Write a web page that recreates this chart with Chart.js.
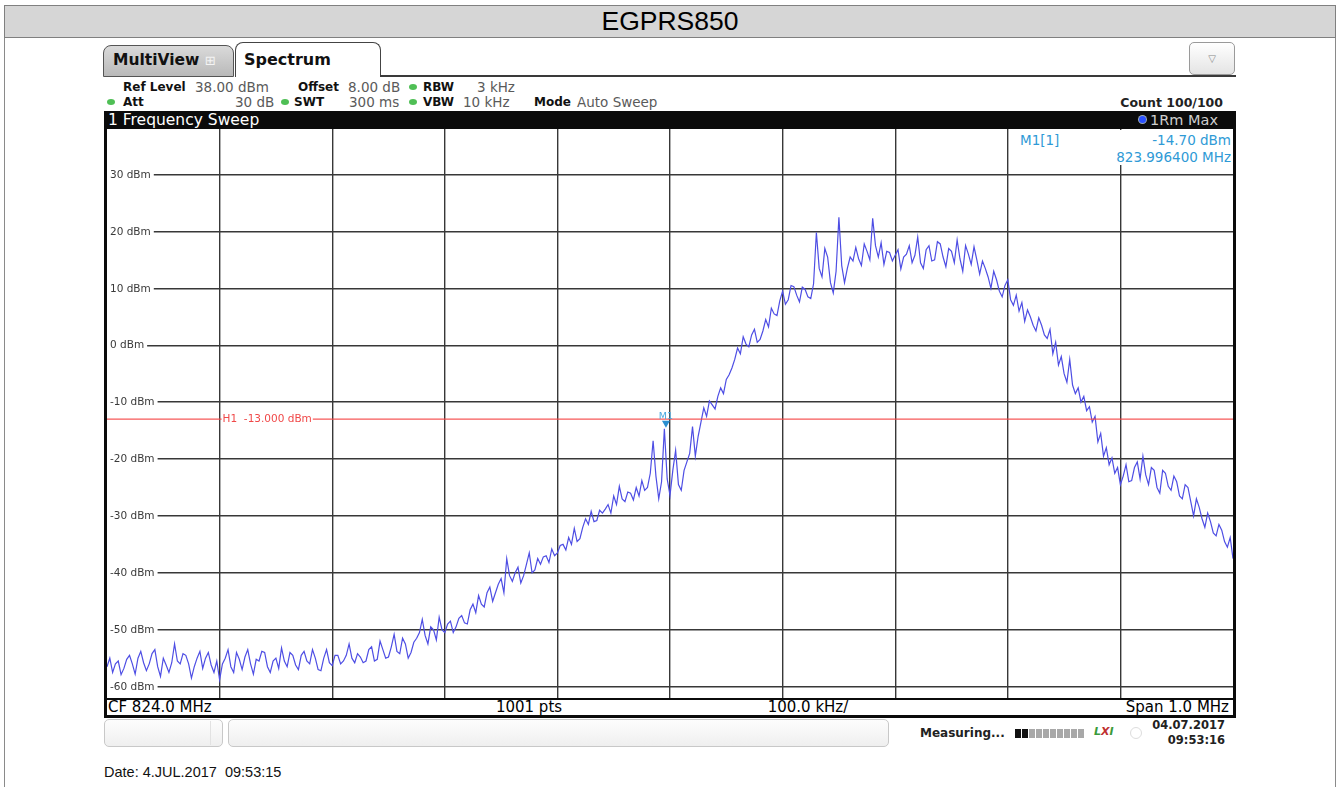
<!DOCTYPE html>
<html>
<head>
<meta charset="utf-8">
<title>EGPRS850</title>
<script src="https://cdn.jsdelivr.net/npm/chart.js@4.4.0/dist/chart.umd.min.js"></script>
<style>
  html, body { margin: 0; padding: 0; background: #fff; }
  body { width: 1341px; height: 787px; position: relative; overflow: hidden; font-family: "DejaVu Sans", sans-serif; }
  .a { position: absolute; white-space: pre; }
  #header { left: 4px; top: 5px; width: 1332px; height: 33px; box-sizing: border-box; background: #d6d6d6;
            border: 1px solid #808080; text-align: center; font: 26.5px "Liberation Sans", Arial, sans-serif; line-height: 31px; color: #000; }
  .side { top: 38px; width: 1px; height: 749px; background: #8a8a8a; }
  .tab { box-sizing: border-box; border-radius: 8px 8px 0 0; font-weight: bold; color: #111; }
  #tabMulti { left: 103px; top: 45px; width: 131px; height: 32px; background: linear-gradient(#dadada, #b9b9b9);
              border: 1.5px solid #555; font-size: 15.5px; line-height: 28px; padding-left: 9px; }
  #tabSpec { left: 235px; top: 42px; width: 146px; height: 35px; background: #fff; border: 1.5px solid #444;
             border-bottom: none; font-size: 16px; line-height: 33px; padding-left: 8px; }
  #tabLine { left: 380px; top: 75px; width: 856px; height: 2px; background: #3a3a3a; }
  #drop { left: 1189px; top: 42px; width: 46px; height: 33px; box-sizing: border-box; border: 1px solid #9a9a9a; border-radius: 5px;
          background: linear-gradient(#ffffff, #e4e4e4); text-align: center; line-height: 31px; font-size: 10px; color: #888; }
  .info { font-size: 13.5px; line-height: 15px; color: #5a5a5a; }
  .lbl { font-size: 12px; line-height: 15px; font-weight: bold; color: #111; }
  .dot { width: 8px; height: 6px; border-radius: 50%; background: #4fbf55; }
  #frame { left: 104px; top: 111px; width: 1132px; height: 607px; background: #0b0b0b; }
  #barTitle { left: 108px; top: 111px; font-size: 15.5px; line-height: 18px; color: #fff; }
  #traceDot { left: 1139px; top: 116px; width: 7px; height: 7px; border-radius: 50%; background: #2a50ff; box-shadow: 0 0 0 1px #9ab; }
  #traceTag { left: 1150px; top: 111px; font-size: 14.5px; line-height: 18px; color: #cfcfcf; }
  #plot { position: absolute; left: 107px; top: 129px; background: #fff; }
  #footRow { left: 107px; top: 700px; width: 1126px; height: 15px; background: #fff; }
  .foot { font-size: 15px; line-height: 15px; color: #000; top: 700px; }
  #mkBox { left: 1012px; top: 130px; width: 221px; height: 35px; background: #fff; }
  .mk { font-size: 13.5px; line-height: 15px; color: #2f9ad6; }
  .sbox { box-sizing: border-box; border: 1px solid #c8c8c8; border-radius: 5px; background: linear-gradient(#fdfdfd, #efefef); }
  #status { font-size: 12px; font-weight: bold; color: #222; }
  .seg { top: 729px; width: 6px; height: 9px; background: #a8a8a8; }
  .stamp { font-size: 11.5px; font-weight: bold; color: #222; line-height: 13px; text-align: right; }
  #dateLine { left: 104px; top: 764px; font: 14.5px "Liberation Sans", Arial, sans-serif; line-height: 16px; color: #111; }
</style>
</head>
<body>
<div class="a" id="header">EGPRS850</div>
<div class="a side" style="left:4px"></div>
<div class="a side" style="left:1335px"></div>

<div class="a tab" id="tabMulti">MultiView <span style="font-weight:normal;color:#f4f4f4;font-size:13px">⊞</span></div>
<div class="a tab" id="tabSpec">Spectrum</div>
<div class="a" id="tabLine"></div>
<div class="a" id="drop">▽</div>

<div class="a lbl" style="left:123px;top:80px">Ref Level</div>
<div class="a info" style="left:195px;top:80px">38.00 dBm</div>
<div class="a lbl" style="left:298px;top:80px">Offset</div>
<div class="a info" style="left:348px;top:80px">8.00 dB</div>
<div class="a dot" style="left:409px;top:84px"></div>
<div class="a lbl" style="left:423px;top:80px">RBW</div>
<div class="a info" style="left:477px;top:80px">3 kHz</div>

<div class="a dot" style="left:107px;top:99px"></div>
<div class="a lbl" style="left:123px;top:95px">Att</div>
<div class="a info" style="left:235px;top:95px">30 dB</div>
<div class="a dot" style="left:281px;top:99px"></div>
<div class="a lbl" style="left:294px;top:95px">SWT</div>
<div class="a info" style="left:349px;top:95px">300 ms</div>
<div class="a dot" style="left:409px;top:99px"></div>
<div class="a lbl" style="left:423px;top:95px">VBW</div>
<div class="a info" style="left:463px;top:95px">10 kHz</div>
<div class="a lbl" style="left:534px;top:95px">Mode</div>
<div class="a info" style="left:577px;top:95px">Auto Sweep</div>
<div class="a lbl" style="right:118px;top:95px;font-size:12.5px;color:#222">Count 100/100</div>

<div class="a" id="frame"></div>
<div class="a" id="barTitle">1 Frequency Sweep</div>
<div class="a" id="traceDot"></div>
<div class="a" id="traceTag">1Rm Max</div>
<canvas id="plot" width="1126" height="569"></canvas>

<div class="a" id="mkBox"></div>
<div class="a mk" id="mkName" style="left:1020px;top:133px">M1[1]</div>
<div class="a mk" id="mkLevel" style="right:110px;top:133px"></div>
<div class="a mk" id="mkFreq" style="right:110px;top:150px"></div>

<div class="a" id="footRow"></div>
<div class="a foot" style="left:108px">CF 824.0 MHz</div>
<div class="a foot" style="left:529px;transform:translateX(-50%)">1001 pts</div>
<div class="a foot" style="left:808px;transform:translateX(-50%)">100.0 kHz/</div>
<div class="a foot" style="right:112px">Span 1.0 MHz</div>

<div class="a sbox" style="left:104px;top:719px;width:119px;height:28px"></div>
<div class="a" style="left:210px;top:721px;width:1px;height:24px;background:#e2e2e2"></div>
<div class="a sbox" style="left:228px;top:719px;width:661px;height:28px"></div>
<div class="a" id="status" style="left:920px;top:726px">Measuring...</div>
<div class="a seg" style="left:1015px;background:#111"></div>
<div class="a seg" style="left:1022px;background:#111"></div>
<div class="a seg" style="left:1029px"></div>
<div class="a seg" style="left:1036px"></div>
<div class="a seg" style="left:1043px"></div>
<div class="a seg" style="left:1050px"></div>
<div class="a seg" style="left:1057px"></div>
<div class="a seg" style="left:1064px"></div>
<div class="a seg" style="left:1071px"></div>
<div class="a seg" style="left:1078px"></div>
<div class="a" style="left:1094px;top:725px;font:italic bold 11px 'DejaVu Sans';color:#3a9a3a">L<span style="color:#c03030">X</span>I</div>
<div class="a" style="left:1130px;top:727px;width:10px;height:10px;border:1px solid #ddd;border-radius:50%"></div>
<div class="a stamp" style="right:116px;top:719px">04.07.2017</div>
<div class="a stamp" style="right:116px;top:734px">09:53:16</div>

<div class="a" id="dateLine">Date: 4.JUL.2017  09:53:15</div>

<script>
// Sweep settings
const SWEEP_START_MHZ = 823.5;
const SWEEP_STOP_MHZ = 824.5;
const REF_LEVEL_DBM = 38;
const BOTTOM_LEVEL_DBM = -62;

// Frequency grid lines (100 kHz/div) and level grid lines
const X_GRID_MHZ = [823.6, 823.7, 823.8, 823.9, 824.0, 824.1, 824.2, 824.3, 824.4];
const Y_TICKS_DBM = [30, 20, 10, 0, -10, -20, -30, -40, -50, -60];

// Display line H1 and marker M1
const H1_LEVEL_DBM = -13.0;
const M1_FREQ_MHZ = 823.9964;
const M1_LEVEL_DBM = -14.70;

// Trace 1 (RMS, max hold), levels in dBm, 2.5 kHz apart from 823.5 MHz to 824.5 MHz
const traceLevels = [
  -56.5, -55.0, -57.5, -56.0, -55.5, -57.9, -56.8, -55.2, -54.5, -56.0,
  -57.8, -55.0, -53.8, -55.8, -57.2, -56.0, -54.2, -53.5, -56.5, -58.2,
  -55.0, -56.2, -57.5, -55.8, -52.5, -55.5, -56.0, -54.2, -54.5, -56.0,
  -58.5, -56.5, -55.0, -53.8, -56.8, -55.0, -54.0, -56.2, -57.5, -55.5,
  -58.8, -56.0, -55.0, -53.5, -56.5, -57.5, -54.0, -55.2, -57.0, -54.8,
  -53.5, -56.0, -57.8, -55.2, -55.5, -53.8, -54.0, -56.5, -57.5, -55.5,
  -55.0, -56.8, -53.2, -55.5, -56.5, -54.0, -54.5, -56.2, -57.0, -54.5,
  -53.8, -55.5, -56.0, -53.5, -55.0, -57.0, -57.2, -55.0, -53.5, -55.8,
  -56.3, -54.5, -54.5, -56.0, -55.5, -54.5, -52.5, -55.0, -55.8, -54.2,
  -54.8, -55.8, -55.5, -53.5, -53.0, -55.5, -55.2, -52.0, -53.5, -55.0,
  -54.8, -53.0, -50.8, -53.8, -54.2, -51.5, -52.5, -55.0, -54.0, -52.2,
  -51.5, -50.5, -48.2, -51.0, -52.5, -49.5, -50.0, -51.8, -47.8, -50.0,
  -50.5, -49.0, -48.5, -50.5, -49.5, -48.0, -47.5, -48.8, -49.0, -46.5,
  -45.5, -47.0, -44.0, -45.5, -46.0, -43.5, -42.5, -45.0, -43.5, -42.0,
  -41.0, -43.5, -37.5, -40.5, -41.5, -40.0, -39.0, -41.8, -40.5, -38.5,
  -36.5, -40.0, -39.5, -37.5, -38.5, -37.2, -37.0, -38.2, -35.8, -37.0,
  -36.5, -35.2, -35.0, -36.0, -33.8, -35.0, -32.2, -34.5, -34.0, -32.0,
  -30.5, -31.5, -29.2, -31.0, -30.8, -29.0, -29.5, -28.8, -28.0, -29.5,
  -26.5, -28.0, -24.8, -27.0, -27.5, -25.8, -26.0, -27.2, -25.0, -26.5,
  -23.8, -25.5, -25.0, -22.5, -16.8, -23.0, -27.0, -24.0, -14.7, -23.5,
  -26.4, -22.0, -18.5, -24.5, -25.5, -22.0, -20.5, -19.0, -14.3, -19.5,
  -16.0, -13.5, -11.0, -12.5, -9.8, -10.5, -11.2, -9.0, -7.5, -8.5,
  -6.0, -5.2, -4.0, -2.5, -0.5, -1.5, 1.5, 0.2, -0.3, 1.8,
  2.8, 0.5, 1.0, 2.5, 4.5, 3.2, 6.5, 5.5, 5.2, 7.8,
  9.5, 7.2, 8.0, 10.5, 10.3, 8.8, 7.6, 10.2, 9.8, 8.5,
  8.2, 10.8, 19.8, 13.5, 12.0, 17.0, 15.5, 11.0, 9.2, 13.0,
  22.5, 14.0, 11.0, 13.5, 15.5, 14.8, 17.2, 15.2, 14.0, 17.8,
  16.5, 15.0, 22.3, 17.5, 15.5, 18.0, 14.2, 16.5, 16.3, 14.8,
  15.8, 16.8, 13.4, 15.5, 16.0, 17.5, 14.5, 15.8, 19.0, 14.5,
  13.5, 16.8, 17.5, 14.8, 15.0, 18.2, 17.8, 15.5, 13.8, 17.0,
  16.5, 14.5, 18.5, 15.2, 13.0, 17.5, 16.0, 14.2, 17.3, 15.0,
  12.5, 14.8, 13.5, 12.0, 10.0, 13.0, 11.5, 9.5, 8.5, 10.5,
  11.5, 8.0, 7.0, 8.8, 6.0, 7.5, 4.2, 6.2, 5.0, 3.5,
  2.5, 4.8, 3.5, 1.8, 1.2, 2.8, -1.5, 0.5, -3.5, -2.0,
  -5.0, -6.5, -2.5, -7.0, -8.5, -7.5, -10.0, -9.0, -11.5, -10.8,
  -13.5, -12.5, -17.0, -15.5, -19.5, -18.0, -21.0, -19.8, -22.5, -21.5,
  -24.5, -23.0, -21.0, -24.0, -23.8, -21.5, -20.5, -23.5, -19.5, -22.8,
  -24.5, -21.5, -22.0, -25.0, -26.0, -22.0, -22.5, -24.8, -25.5, -23.0,
  -24.0, -26.5, -27.0, -24.5, -25.0, -27.5, -30.0, -27.0, -28.5, -30.5,
  -32.0, -29.5, -31.0, -33.0, -33.5, -31.5, -32.5, -34.5, -35.5, -33.8,
  -37.5
];

const stepMHz = (SWEEP_STOP_MHZ - SWEEP_START_MHZ) / (traceLevels.length - 1);
const tracePoints = traceLevels.map((v, i) => ({ x: SWEEP_START_MHZ + i * stepMHz, y: v }));

document.getElementById('mkLevel').textContent = M1_LEVEL_DBM.toFixed(2) + ' dBm';
document.getElementById('mkFreq').textContent = M1_FREQ_MHZ.toFixed(6) + ' MHz';

// Level labels inside the diagram, H1 caption and the M1 marker symbol
const analyzerOverlay = {
  id: 'analyzerOverlay',
  beforeDatasetsDraw(chart) {
    const { ctx, chartArea, scales: { y } } = chart;
    ctx.save();
    ctx.font = '10.5px "DejaVu Sans"';
    ctx.textBaseline = 'middle';
    Y_TICKS_DBM.forEach(v => {
      const py = y.getPixelForValue(v);
      const txt = v + ' dBm';
      const w = ctx.measureText(txt).width;
      ctx.fillStyle = '#fff';
      ctx.fillRect(chartArea.left, py - 6, w + 6, 12);
      ctx.fillStyle = '#3a3a3a';
      ctx.fillText(txt, chartArea.left + 3, py + 0.5);
    });
    ctx.restore();
  },
  afterDatasetsDraw(chart) {
    const { ctx, scales: { x, y } } = chart;
    ctx.save();
    // H1 caption
    const hy = y.getPixelForValue(H1_LEVEL_DBM);
    const hx = x.getPixelForValue(X_GRID_MHZ[0]) + 2;
    ctx.font = '10.5px "DejaVu Sans"';
    ctx.textBaseline = 'middle';
    const cap = 'H1  ' + H1_LEVEL_DBM.toFixed(3) + ' dBm';
    const cw = ctx.measureText(cap).width;
    ctx.fillStyle = '#fff';
    ctx.fillRect(hx, hy - 6, cw + 2, 12);
    ctx.fillStyle = '#f04848';
    ctx.fillText(cap, hx + 1, hy + 0.5);
    // M1 marker
    const mx = x.getPixelForValue(M1_FREQ_MHZ);
    const my = y.getPixelForValue(M1_LEVEL_DBM);
    ctx.fillStyle = '#2a8fd0';
    ctx.beginPath();
    ctx.moveTo(mx - 4, my - 8);
    ctx.lineTo(mx + 4, my - 8);
    ctx.lineTo(mx, my - 1);
    ctx.closePath();
    ctx.fill();
    ctx.fillStyle = '#49a9e0';
    ctx.font = '9.5px "DejaVu Sans"';
    ctx.textAlign = 'center';
    ctx.textBaseline = 'alphabetic';
    ctx.fillText('M1', mx, my - 10);
    ctx.restore();
  }
};

new Chart(document.getElementById('plot'), {
  type: 'line',
  data: {
    datasets: [
      {
        label: 'H1',
        data: [{ x: SWEEP_START_MHZ, y: H1_LEVEL_DBM }, { x: SWEEP_STOP_MHZ, y: H1_LEVEL_DBM }],
        borderColor: 'rgba(245,70,70,0.9)',
        borderWidth: 1.3,
        pointRadius: 0
      },
      {
        label: '1Rm Max',
        data: tracePoints,
        borderColor: 'rgb(78,78,228)',
        borderWidth: 1.2,
        pointRadius: 0,
        tension: 0
      }
    ]
  },
  options: {
    responsive: false,
    animation: false,
    devicePixelRatio: 1,
    layout: { padding: 0 },
    plugins: { legend: { display: false }, tooltip: { enabled: false } },
    scales: {
      x: {
        type: 'linear',
        min: SWEEP_START_MHZ,
        max: SWEEP_STOP_MHZ,
        afterBuildTicks: s => { s.ticks = X_GRID_MHZ.map(v => ({ value: v })); },
        ticks: { display: false },
        grid: { color: '#383838', lineWidth: 1.4, drawTicks: false },
        border: { display: false }
      },
      y: {
        type: 'linear',
        min: BOTTOM_LEVEL_DBM,
        max: REF_LEVEL_DBM,
        afterBuildTicks: s => { s.ticks = Y_TICKS_DBM.map(v => ({ value: v })); },
        ticks: { display: false },
        grid: { color: '#383838', lineWidth: 1.4, drawTicks: false },
        border: { display: false }
      }
    }
  },
  plugins: [analyzerOverlay]
});
</script>
</body>
</html>
